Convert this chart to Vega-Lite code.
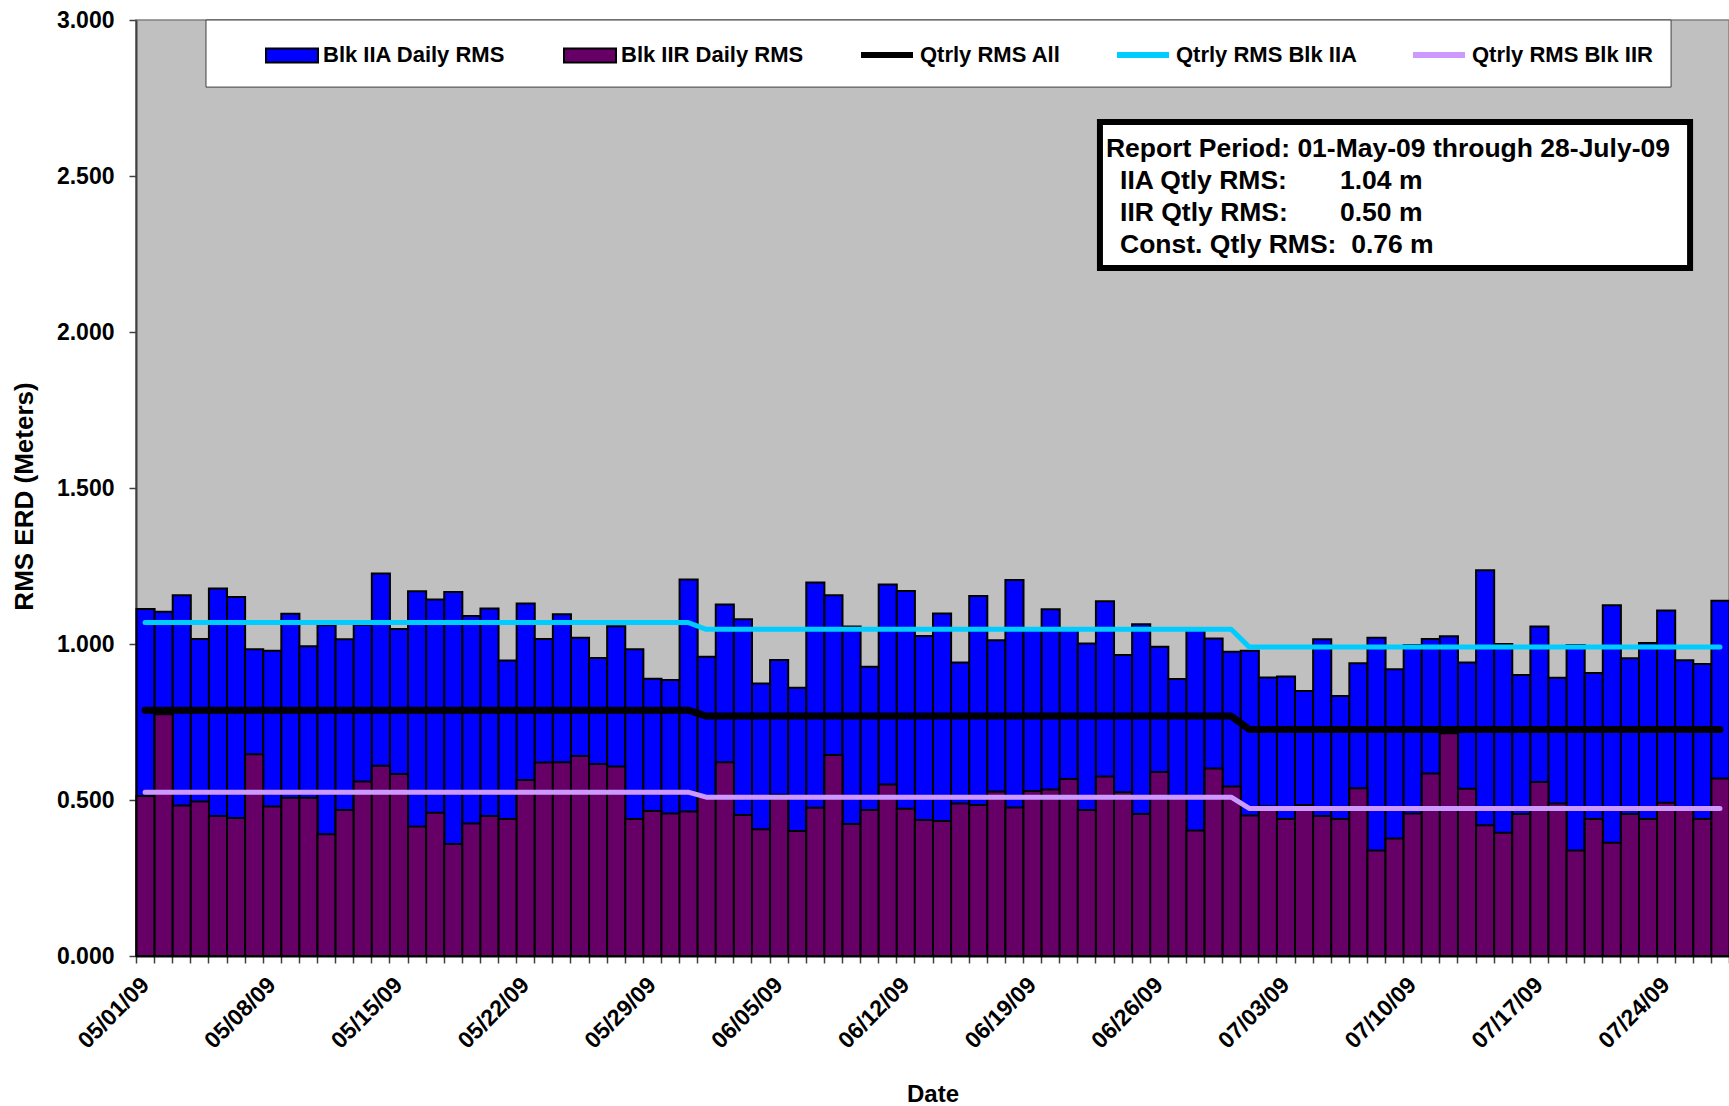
{
  "$schema": "https://vega.github.io/schema/vega-lite/v6.json",
  "autosize": {"type": "none"},
  "padding": {"left": 136, "top": 20, "right": 0, "bottom": 150},
  "width": 1593,
  "height": 936,
  "background": "white",
  "config": {
    "font": "Liberation Sans",
    "view": {"fill": "#c0c0c0", "stroke": "#808080", "strokeWidth": 1.5}
  },
  "data": {
    "values": [
      {"date": "2009-05-01", "iia": 1.112, "iir": 0.513, "qall": 0.788, "qiia": 1.069, "qiir": 0.525},
      {"date": "2009-05-02", "iia": 1.103, "iir": 0.775, "qall": 0.788, "qiia": 1.069, "qiir": 0.525},
      {"date": "2009-05-03", "iia": 1.156, "iir": 0.482, "qall": 0.788, "qiia": 1.069, "qiir": 0.525},
      {"date": "2009-05-04", "iia": 1.016, "iir": 0.495, "qall": 0.788, "qiia": 1.069, "qiir": 0.525},
      {"date": "2009-05-05", "iia": 1.178, "iir": 0.449, "qall": 0.788, "qiia": 1.069, "qiir": 0.525},
      {"date": "2009-05-06", "iia": 1.151, "iir": 0.442, "qall": 0.788, "qiia": 1.069, "qiir": 0.525},
      {"date": "2009-05-07", "iia": 0.983, "iir": 0.647, "qall": 0.788, "qiia": 1.069, "qiir": 0.525},
      {"date": "2009-05-08", "iia": 0.978, "iir": 0.479, "qall": 0.788, "qiia": 1.069, "qiir": 0.525},
      {"date": "2009-05-09", "iia": 1.097, "iir": 0.507, "qall": 0.788, "qiia": 1.069, "qiir": 0.525},
      {"date": "2009-05-10", "iia": 0.993, "iir": 0.507, "qall": 0.788, "qiia": 1.069, "qiir": 0.525},
      {"date": "2009-05-11", "iia": 1.060, "iir": 0.390, "qall": 0.788, "qiia": 1.069, "qiir": 0.525},
      {"date": "2009-05-12", "iia": 1.015, "iir": 0.468, "qall": 0.788, "qiia": 1.069, "qiir": 0.525},
      {"date": "2009-05-13", "iia": 1.061, "iir": 0.559, "qall": 0.788, "qiia": 1.069, "qiir": 0.525},
      {"date": "2009-05-14", "iia": 1.226, "iir": 0.610, "qall": 0.788, "qiia": 1.069, "qiir": 0.525},
      {"date": "2009-05-15", "iia": 1.048, "iir": 0.583, "qall": 0.788, "qiia": 1.069, "qiir": 0.525},
      {"date": "2009-05-16", "iia": 1.169, "iir": 0.415, "qall": 0.788, "qiia": 1.069, "qiir": 0.525},
      {"date": "2009-05-17", "iia": 1.143, "iir": 0.459, "qall": 0.788, "qiia": 1.069, "qiir": 0.525},
      {"date": "2009-05-18", "iia": 1.167, "iir": 0.359, "qall": 0.788, "qiia": 1.069, "qiir": 0.525},
      {"date": "2009-05-19", "iia": 1.090, "iir": 0.425, "qall": 0.788, "qiia": 1.069, "qiir": 0.525},
      {"date": "2009-05-20", "iia": 1.114, "iir": 0.449, "qall": 0.788, "qiia": 1.069, "qiir": 0.525},
      {"date": "2009-05-21", "iia": 0.947, "iir": 0.439, "qall": 0.788, "qiia": 1.069, "qiir": 0.525},
      {"date": "2009-05-22", "iia": 1.130, "iir": 0.564, "qall": 0.788, "qiia": 1.069, "qiir": 0.525},
      {"date": "2009-05-23", "iia": 1.016, "iir": 0.620, "qall": 0.788, "qiia": 1.069, "qiir": 0.525},
      {"date": "2009-05-24", "iia": 1.095, "iir": 0.621, "qall": 0.788, "qiia": 1.069, "qiir": 0.525},
      {"date": "2009-05-25", "iia": 1.020, "iir": 0.641, "qall": 0.788, "qiia": 1.069, "qiir": 0.525},
      {"date": "2009-05-26", "iia": 0.955, "iir": 0.615, "qall": 0.788, "qiia": 1.069, "qiir": 0.525},
      {"date": "2009-05-27", "iia": 1.057, "iir": 0.607, "qall": 0.788, "qiia": 1.069, "qiir": 0.525},
      {"date": "2009-05-28", "iia": 0.983, "iir": 0.439, "qall": 0.788, "qiia": 1.069, "qiir": 0.525},
      {"date": "2009-05-29", "iia": 0.889, "iir": 0.465, "qall": 0.788, "qiia": 1.069, "qiir": 0.525},
      {"date": "2009-05-30", "iia": 0.885, "iir": 0.457, "qall": 0.788, "qiia": 1.069, "qiir": 0.525},
      {"date": "2009-05-31", "iia": 1.207, "iir": 0.463, "qall": 0.788, "qiia": 1.069, "qiir": 0.525},
      {"date": "2009-06-01", "iia": 0.959, "iir": 0.510, "qall": 0.769, "qiia": 1.047, "qiir": 0.509},
      {"date": "2009-06-02", "iia": 1.127, "iir": 0.621, "qall": 0.769, "qiia": 1.047, "qiir": 0.509},
      {"date": "2009-06-03", "iia": 1.079, "iir": 0.452, "qall": 0.769, "qiia": 1.047, "qiir": 0.509},
      {"date": "2009-06-04", "iia": 0.873, "iir": 0.406, "qall": 0.769, "qiia": 1.047, "qiir": 0.509},
      {"date": "2009-06-05", "iia": 0.949, "iir": 0.517, "qall": 0.769, "qiia": 1.047, "qiir": 0.509},
      {"date": "2009-06-06", "iia": 0.860, "iir": 0.401, "qall": 0.769, "qiia": 1.047, "qiir": 0.509},
      {"date": "2009-06-07", "iia": 1.197, "iir": 0.475, "qall": 0.769, "qiia": 1.047, "qiir": 0.509},
      {"date": "2009-06-08", "iia": 1.156, "iir": 0.644, "qall": 0.769, "qiia": 1.047, "qiir": 0.509},
      {"date": "2009-06-09", "iia": 1.056, "iir": 0.423, "qall": 0.769, "qiia": 1.047, "qiir": 0.509},
      {"date": "2009-06-10", "iia": 0.927, "iir": 0.468, "qall": 0.769, "qiia": 1.047, "qiir": 0.509},
      {"date": "2009-06-11", "iia": 1.191, "iir": 0.550, "qall": 0.769, "qiia": 1.047, "qiir": 0.509},
      {"date": "2009-06-12", "iia": 1.170, "iir": 0.472, "qall": 0.769, "qiia": 1.047, "qiir": 0.509},
      {"date": "2009-06-13", "iia": 1.026, "iir": 0.436, "qall": 0.769, "qiia": 1.047, "qiir": 0.509},
      {"date": "2009-06-14", "iia": 1.098, "iir": 0.433, "qall": 0.769, "qiia": 1.047, "qiir": 0.509},
      {"date": "2009-06-15", "iia": 0.941, "iir": 0.489, "qall": 0.769, "qiia": 1.047, "qiir": 0.509},
      {"date": "2009-06-16", "iia": 1.154, "iir": 0.484, "qall": 0.769, "qiia": 1.047, "qiir": 0.509},
      {"date": "2009-06-17", "iia": 1.012, "iir": 0.527, "qall": 0.769, "qiia": 1.047, "qiir": 0.509},
      {"date": "2009-06-18", "iia": 1.205, "iir": 0.476, "qall": 0.769, "qiia": 1.047, "qiir": 0.509},
      {"date": "2009-06-19", "iia": 1.048, "iir": 0.529, "qall": 0.769, "qiia": 1.047, "qiir": 0.509},
      {"date": "2009-06-20", "iia": 1.111, "iir": 0.534, "qall": 0.769, "qiia": 1.047, "qiir": 0.509},
      {"date": "2009-06-21", "iia": 1.045, "iir": 0.567, "qall": 0.769, "qiia": 1.047, "qiir": 0.509},
      {"date": "2009-06-22", "iia": 1.002, "iir": 0.468, "qall": 0.769, "qiia": 1.047, "qiir": 0.509},
      {"date": "2009-06-23", "iia": 1.137, "iir": 0.575, "qall": 0.769, "qiia": 1.047, "qiir": 0.509},
      {"date": "2009-06-24", "iia": 0.965, "iir": 0.525, "qall": 0.769, "qiia": 1.047, "qiir": 0.509},
      {"date": "2009-06-25", "iia": 1.063, "iir": 0.455, "qall": 0.769, "qiia": 1.047, "qiir": 0.509},
      {"date": "2009-06-26", "iia": 0.991, "iir": 0.590, "qall": 0.769, "qiia": 1.047, "qiir": 0.509},
      {"date": "2009-06-27", "iia": 0.888, "iir": 0.510, "qall": 0.769, "qiia": 1.047, "qiir": 0.509},
      {"date": "2009-06-28", "iia": 1.045, "iir": 0.402, "qall": 0.769, "qiia": 1.047, "qiir": 0.509},
      {"date": "2009-06-29", "iia": 1.018, "iir": 0.601, "qall": 0.769, "qiia": 1.047, "qiir": 0.509},
      {"date": "2009-06-30", "iia": 0.975, "iir": 0.543, "qall": 0.769, "qiia": 1.047, "qiir": 0.509},
      {"date": "2009-07-01", "iia": 0.978, "iir": 0.450, "qall": 0.726, "qiia": 0.990, "qiir": 0.473},
      {"date": "2009-07-02", "iia": 0.893, "iir": 0.480, "qall": 0.726, "qiia": 0.990, "qiir": 0.473},
      {"date": "2009-07-03", "iia": 0.896, "iir": 0.439, "qall": 0.726, "qiia": 0.990, "qiir": 0.473},
      {"date": "2009-07-04", "iia": 0.849, "iir": 0.484, "qall": 0.726, "qiia": 0.990, "qiir": 0.473},
      {"date": "2009-07-05", "iia": 1.015, "iir": 0.449, "qall": 0.726, "qiia": 0.990, "qiir": 0.473},
      {"date": "2009-07-06", "iia": 0.833, "iir": 0.439, "qall": 0.726, "qiia": 0.990, "qiir": 0.473},
      {"date": "2009-07-07", "iia": 0.938, "iir": 0.538, "qall": 0.726, "qiia": 0.990, "qiir": 0.473},
      {"date": "2009-07-08", "iia": 1.020, "iir": 0.338, "qall": 0.726, "qiia": 0.990, "qiir": 0.473},
      {"date": "2009-07-09", "iia": 0.919, "iir": 0.377, "qall": 0.726, "qiia": 0.990, "qiir": 0.473},
      {"date": "2009-07-10", "iia": 0.997, "iir": 0.457, "qall": 0.726, "qiia": 0.990, "qiir": 0.473},
      {"date": "2009-07-11", "iia": 1.016, "iir": 0.585, "qall": 0.726, "qiia": 0.990, "qiir": 0.473},
      {"date": "2009-07-12", "iia": 1.025, "iir": 0.714, "qall": 0.726, "qiia": 0.990, "qiir": 0.473},
      {"date": "2009-07-13", "iia": 0.941, "iir": 0.536, "qall": 0.726, "qiia": 0.990, "qiir": 0.473},
      {"date": "2009-07-14", "iia": 1.236, "iir": 0.419, "qall": 0.726, "qiia": 0.990, "qiir": 0.473},
      {"date": "2009-07-15", "iia": 1.000, "iir": 0.395, "qall": 0.726, "qiia": 0.990, "qiir": 0.473},
      {"date": "2009-07-16", "iia": 0.901, "iir": 0.455, "qall": 0.726, "qiia": 0.990, "qiir": 0.473},
      {"date": "2009-07-17", "iia": 1.056, "iir": 0.558, "qall": 0.726, "qiia": 0.990, "qiir": 0.473},
      {"date": "2009-07-18", "iia": 0.892, "iir": 0.489, "qall": 0.726, "qiia": 0.990, "qiir": 0.473},
      {"date": "2009-07-19", "iia": 0.997, "iir": 0.338, "qall": 0.726, "qiia": 0.990, "qiir": 0.473},
      {"date": "2009-07-20", "iia": 0.907, "iir": 0.439, "qall": 0.726, "qiia": 0.990, "qiir": 0.473},
      {"date": "2009-07-21", "iia": 1.124, "iir": 0.363, "qall": 0.726, "qiia": 0.990, "qiir": 0.473},
      {"date": "2009-07-22", "iia": 0.954, "iir": 0.455, "qall": 0.726, "qiia": 0.990, "qiir": 0.473},
      {"date": "2009-07-23", "iia": 1.003, "iir": 0.439, "qall": 0.726, "qiia": 0.990, "qiir": 0.473},
      {"date": "2009-07-24", "iia": 1.107, "iir": 0.491, "qall": 0.726, "qiia": 0.990, "qiir": 0.473},
      {"date": "2009-07-25", "iia": 0.948, "iir": 0.470, "qall": 0.726, "qiia": 0.990, "qiir": 0.473},
      {"date": "2009-07-26", "iia": 0.936, "iir": 0.439, "qall": 0.726, "qiia": 0.990, "qiir": 0.473},
      {"date": "2009-07-27", "iia": 1.139, "iir": 0.569, "qall": 0.726, "qiia": 0.990, "qiir": 0.473}
    ]
  },
  "layer": [
    {
      "mark": {"type": "bar", "stroke": "black", "strokeWidth": 2, "binSpacing": 0},
      "encoding": {
        "x": {
          "field": "date", "type": "temporal", "timeUnit": "utcyearmonthdate",
          "scale": {"type": "utc", "nice": false, "domain": [{"year": 2009, "month": 5, "date": 1, "utc": true}, {"year": 2009, "month": 7, "date": 28, "utc": true}]},
          "axis": {
            "title": "Date",
            "tickCount": {"interval": "day", "step": 1},
            "labelExpr": "round((datum.value - utc(2009,4,1)) / 86400000) % 7 == 0 ? utcFormat(datum.value, '%m/%d/%y') : ''",
            "labelAngle": -45, "labelAlign": "right", "labelBaseline": "middle",
            "labelOffset": 9, "labelPadding": 18, "labelOverlap": false, "labelFlush": false, "labelBound": false,
            "labelFont": "Liberation Sans", "labelFontSize": 23, "labelFontWeight": "bold", "labelColor": "black",
            "tickSize": 7, "tickColor": "#404040", "tickWidth": 1.5,
            "domainColor": "black", "domainWidth": 2, "grid": false,
            "titleFont": "Liberation Sans", "titleFontSize": 24, "titleFontWeight": "bold", "titleColor": "black", "titlePadding": 30
          }
        },
        "y": {
          "field": "iia", "type": "quantitative",
          "scale": {"domain": [0, 3], "nice": false},
          "axis": {
            "title": "RMS ERD (Meters)",
            "values": [0, 0.5, 1, 1.5, 2, 2.5, 3], "format": ".3f",
            "labelFont": "Liberation Sans", "labelFontSize": 23, "labelFontWeight": "bold", "labelColor": "black",
            "labelPadding": 15, "tickSize": 7, "tickColor": "#404040", "tickWidth": 1.5,
            "domainColor": "#404040", "domainWidth": 2, "grid": false,
            "titleFont": "Liberation Sans", "titleFontSize": 26, "titleFontWeight": "bold", "titleColor": "black", "titlePadding": 19, "titleY": 476
          }
        },
        "fill": {
          "datum": "Blk IIA Daily RMS", "type": "nominal",
          "scale": {
            "domain": ["Blk IIA Daily RMS", "Blk IIR Daily RMS"],
            "range": ["#0000ff", "#660066"]
          },
          "legend": {
            "orient": "none", "legendX": 129, "legendY": 8, "direction": "horizontal", "columns": 2,
            "title": null, "padding": 0,
            "columnPadding": 54, "labelOffset": 4,
            "labelFont": "Liberation Sans", "labelFontSize": 22, "labelFontWeight": "bold", "labelColor": "black", "labelLimit": 400,
            "symbolSize": 2704, "symbolType": "M-1,-0.27H1V0.27H-1Z",
            "symbolStrokeColor": "black", "symbolStrokeWidth": 2, "symbolOpacity": 1
          }
        }
      }
    },
    {
      "mark": {"type": "bar", "stroke": "black", "strokeWidth": 2, "binSpacing": 0},
      "encoding": {
        "x": {"field": "date", "type": "temporal", "timeUnit": "utcyearmonthdate"},
        "y": {"field": "iir", "type": "quantitative"},
        "fill": {"datum": "Blk IIR Daily RMS", "type": "nominal"}
      }
    },
    {
      "mark": {"type": "line", "strokeWidth": 7, "strokeCap": "round", "strokeJoin": "round"},
      "encoding": {
        "x": {"field": "date", "type": "temporal", "timeUnit": "utcyearmonthdate", "bandPosition": 0.5},
        "y": {"field": "qall", "type": "quantitative"},
        "stroke": {
          "datum": "Qtrly RMS All", "type": "nominal",
          "scale": {
            "domain": ["Qtrly RMS All", "Qtrly RMS Blk IIA", "Qtrly RMS Blk IIR"],
            "range": ["#000000", "#00ccff", "#cc99ff"]
          },
          "legend": {
            "orient": "none", "legendX": 722, "legendY": 6, "direction": "horizontal", "columns": 3,
            "title": null, "padding": 0,
            "columnPadding": 44, "labelOffset": 4,
            "labelFont": "Liberation Sans", "labelFontSize": 22, "labelFontWeight": "bold", "labelColor": "black", "labelLimit": 400,
            "symbolSize": 2704, "symbolType": "stroke", "symbolStrokeWidth": 6, "symbolOpacity": 1
          }
        }
      }
    },
    {
      "mark": {"type": "line", "strokeWidth": 5, "strokeCap": "round", "strokeJoin": "round"},
      "encoding": {
        "x": {"field": "date", "type": "temporal", "timeUnit": "utcyearmonthdate", "bandPosition": 0.5},
        "y": {"field": "qiia", "type": "quantitative"},
        "stroke": {"datum": "Qtrly RMS Blk IIA", "type": "nominal"}
      }
    },
    {
      "mark": {"type": "line", "strokeWidth": 5, "strokeCap": "round", "strokeJoin": "round"},
      "encoding": {
        "x": {"field": "date", "type": "temporal", "timeUnit": "utcyearmonthdate", "bandPosition": 0.5},
        "y": {"field": "qiir", "type": "quantitative"},
        "stroke": {"datum": "Qtrly RMS Blk IIR", "type": "nominal"}
      }
    },
    {
      "data": {"values": [{}]},
      "mark": {"type": "rect", "fill": "white", "stroke": "#404040", "strokeWidth": 1},
      "encoding": {
        "x": {"datum": {"year": 2009, "month": 5, "date": 4, "hours": 20, "minutes": 48, "utc": true}, "type": "temporal"},
        "x2": {"datum": {"year": 2009, "month": 7, "date": 24, "hours": 19, "minutes": 12, "utc": true}},
        "y": {"datum": 3.0, "type": "quantitative"},
        "y2": {"datum": 2.785}
      }
    },
    {
      "data": {"values": [{}]},
      "mark": {"type": "rect", "fill": "white", "stroke": "black", "strokeWidth": 6},
      "encoding": {
        "x": {"datum": {"year": 2009, "month": 6, "date": 23, "hours": 6, "utc": true}, "type": "temporal"},
        "x2": {"datum": {"year": 2009, "month": 7, "date": 25, "hours": 20, "minutes": 24, "utc": true}},
        "y": {"datum": 2.673, "type": "quantitative"},
        "y2": {"datum": 2.205}
      }
    },
    {
      "data": {"values": [{}]},
      "mark": {"type": "text", "align": "left", "baseline": "middle", "font": "Liberation Sans", "fontSize": 26.5, "fontWeight": "bold", "color": "black", "text": "Report Period: 01-May-09 through 28-July-09"},
      "encoding": {
        "x": {"datum": {"year": 2009, "month": 6, "date": 23, "hours": 14, "utc": true}, "type": "temporal"},
        "y": {"datum": 2.587, "type": "quantitative"}
      }
    },
    {
      "data": {"values": [{}]},
      "mark": {"type": "text", "align": "left", "baseline": "middle", "font": "Liberation Sans", "fontSize": 26.5, "fontWeight": "bold", "color": "black", "lineHeight": 32, "text": ["IIA Qtly RMS:", "IIR Qtly RMS:", "Const. Qtly RMS:\u00a0 0.76 m"]},
      "encoding": {
        "x": {"datum": {"year": 2009, "month": 6, "date": 24, "hours": 8, "minutes": 38, "utc": true}, "type": "temporal"},
        "y": {"datum": 2.484, "type": "quantitative"}
      }
    },
    {
      "data": {"values": [{}]},
      "mark": {"type": "text", "align": "left", "baseline": "middle", "font": "Liberation Sans", "fontSize": 26.5, "fontWeight": "bold", "color": "black", "lineHeight": 32, "text": ["1.04 m", "0.50 m"]},
      "encoding": {
        "x": {"datum": {"year": 2009, "month": 7, "date": 6, "hours": 12, "minutes": 15, "utc": true}, "type": "temporal"},
        "y": {"datum": 2.484, "type": "quantitative"}
      }
    }
  ]
}
